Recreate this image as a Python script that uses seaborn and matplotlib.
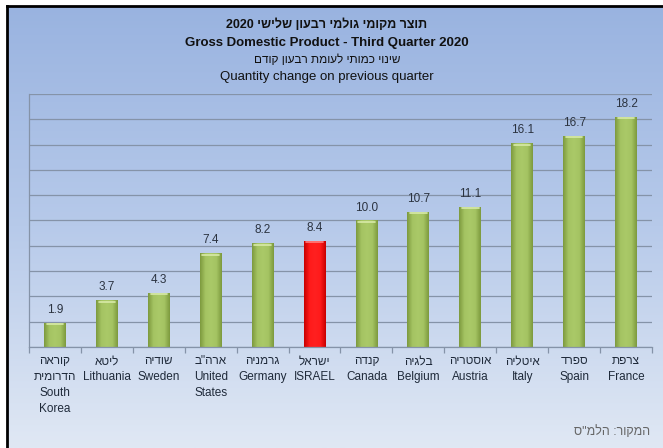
import numpy as np
import pandas as pd
import matplotlib
matplotlib.use("Agg")
import matplotlib.pyplot as plt
import seaborn as sns
from matplotlib.colors import LinearSegmentedColormap

sns.set_theme(style="white")
plt.rcParams['font.family'] = ['Liberation Sans', 'DejaVu Sans']

# ---- data ----
heb_names = ["קוראה\nהדרומית", "ליטא", "שודיה", 'ארה"ב', "גרמניה", "ישראל",
             "קנדה", "בלגיה", "אוסטריה", "איטליה", "ספרד", "צרפת"]
eng_names = ["South\nKorea", "Lithuania", "Sweden", "United\nStates", "Germany", "ISRAEL",
             "Canada", "Belgium", "Austria", "Italy", "Spain", "France"]
values = [1.9, 3.7, 4.3, 7.4, 8.2, 8.4, 10.0, 10.7, 11.1, 16.1, 16.7, 18.2]
highlight = "ISRAEL"
title_he = "תוצר מקומי גולמי רבעון שלישי 2020"
title_en = "Gross Domestic Product - Third Quarter 2020"
sub_he = "שינוי כמותי לעומת רבעון קודם"
sub_en = "Quantity change on previous quarter"
source_he = 'המקור: הלמ"ס'


def is_heb(s):
    return any('\u0590' <= c <= '\u05ff' for c in s)


def vis(s):
    """Visual (left-to-right) ordering for a simple RTL line."""
    out = []
    for line in s.split("\n"):
        words = line.split(" ")
        words = [w[::-1] if is_heb(w) else w for w in words]
        out.append(" ".join(words[::-1]))
    return "\n".join(out)


def tick_label(he, en):
    return "\n".join([vis(l) for l in he.split("\n")] + en.split("\n"))


labels = [tick_label(h, e) for h, e in zip(heb_names, eng_names)]
df = pd.DataFrame({"country": eng_names, "label": labels, "value": values})
palette = {e: ("#ff0000" if e == highlight else "#9bbb59") for e in eng_names}

W, H = 663, 448
fig = plt.figure(figsize=(W / 100, H / 100), dpi=100)
fig.patch.set_facecolor("white")

# background frame with vertical gradient
bg = fig.add_axes([7 / W, 0, 1 - 7 / W, 1 - 6 / H])
grad_cmap = LinearSegmentedColormap.from_list("bg", ["#99b3e0", "#b7caea", "#e0e8f4"])
bg.imshow(np.linspace(0, 1, 256).reshape(-1, 1), aspect="auto", cmap=grad_cmap,
          extent=[0, 1, 0, 1], origin="upper")
bg.set_xticks([]); bg.set_yticks([])
for k, sp in bg.spines.items():
    sp.set_visible(k in ("left", "top"))
    sp.set_color("black")
    sp.set_linewidth(2)

# main axes
x0, x1, ytop, ybot = 29, 652, 94, 347
ax = fig.add_axes([x0 / W, 1 - ybot / H, (x1 - x0) / W, (ybot - ytop) / H])
ax.patch.set_alpha(0)
sns.barplot(data=df, x="country", y="value", hue="country", palette=palette,
            legend=False, width=0.42, ax=ax, saturation=1, edgecolor="none")

ax.set_ylim(0, 20)
ax.set_xlim(-0.5, len(values) - 0.5)
ax.set_yticks(np.arange(0, 21, 2))
ax.set_yticklabels([])
ax.yaxis.grid(True, color="#8593a8", linewidth=0.9)
ax.set_axisbelow(True)
ax.tick_params(axis="y", length=0)
ax.set_xlabel(""); ax.set_ylabel("")

# cylinder-like shading on bars
green_cmap = LinearSegmentedColormap.from_list("g", ["#7d9a3e", "#a5c463", "#aac968", "#a5c463", "#7d9a3e"])
red_cmap = LinearSegmentedColormap.from_list("r", ["#c80000", "#ff1a1a", "#ff2020", "#ff1a1a", "#c80000"])
for patch, name in zip(ax.patches, eng_names):
    bx, by = patch.get_x(), patch.get_y()
    bw, bh = patch.get_width(), patch.get_height()
    cm = red_cmap if name == highlight else green_cmap
    im = ax.imshow(np.linspace(0, 1, 64).reshape(1, -1), cmap=cm, aspect="auto",
                   extent=[bx, bx + bw, by, by + bh], zorder=patch.get_zorder() + 0.1)
    im.set_clip_path(patch)
    ax.plot([bx + bw * 0.12, bx + bw * 0.88], [by + bh - 0.12, by + bh - 0.12],
            color="#d8eaa8" if name != highlight else "#ff8080", lw=1.2,
            zorder=patch.get_zorder() + 0.2, solid_capstyle="round")
ax.set_xlim(-0.5, len(values) - 0.5)
ax.set_ylim(0, 20)

# value labels
for i, v in enumerate(values):
    ax.text(i, v + 0.55, f"{v:.1f}", ha="center", va="bottom", fontsize=8.5, color="#2b3340")

# x tick labels
ax.set_xticks(range(len(labels)))
ax.set_xticklabels(labels, fontsize=8.5, color="#1f2a3a", linespacing=1.45, va="top")
ax.tick_params(axis="x", which="major", length=0, pad=6)
ax.set_xticks(np.arange(-0.5, len(values), 1), minor=True)
ax.tick_params(axis="x", which="minor", length=4, color="#8593a8", width=0.9, bottom=True)

for k, sp in ax.spines.items():
    sp.set_visible(k in ("left", "bottom"))
    sp.set_color("#8593a8")
    sp.set_linewidth(0.9)

# titles
cx = 327 / W
fig.text(cx, 1 - 25 / H, vis(title_he), ha="center", va="center", fontsize=9, fontweight="bold", color="#111111")
fig.text(cx, 1 - 43 / H, title_en, ha="center", va="center", fontsize=9.5, fontweight="bold", color="#111111")
fig.text(cx, 1 - 60 / H, vis(sub_he), ha="center", va="center", fontsize=8.5, color="#111111")
fig.text(cx, 1 - 77 / H, sub_en, ha="center", va="center", fontsize=9.5, color="#111111")
fig.text(650 / W, 1 - 432 / H, vis(source_he), ha="right", va="center", fontsize=9, color="#666666")

fig.savefig("out.png", dpi=100)
